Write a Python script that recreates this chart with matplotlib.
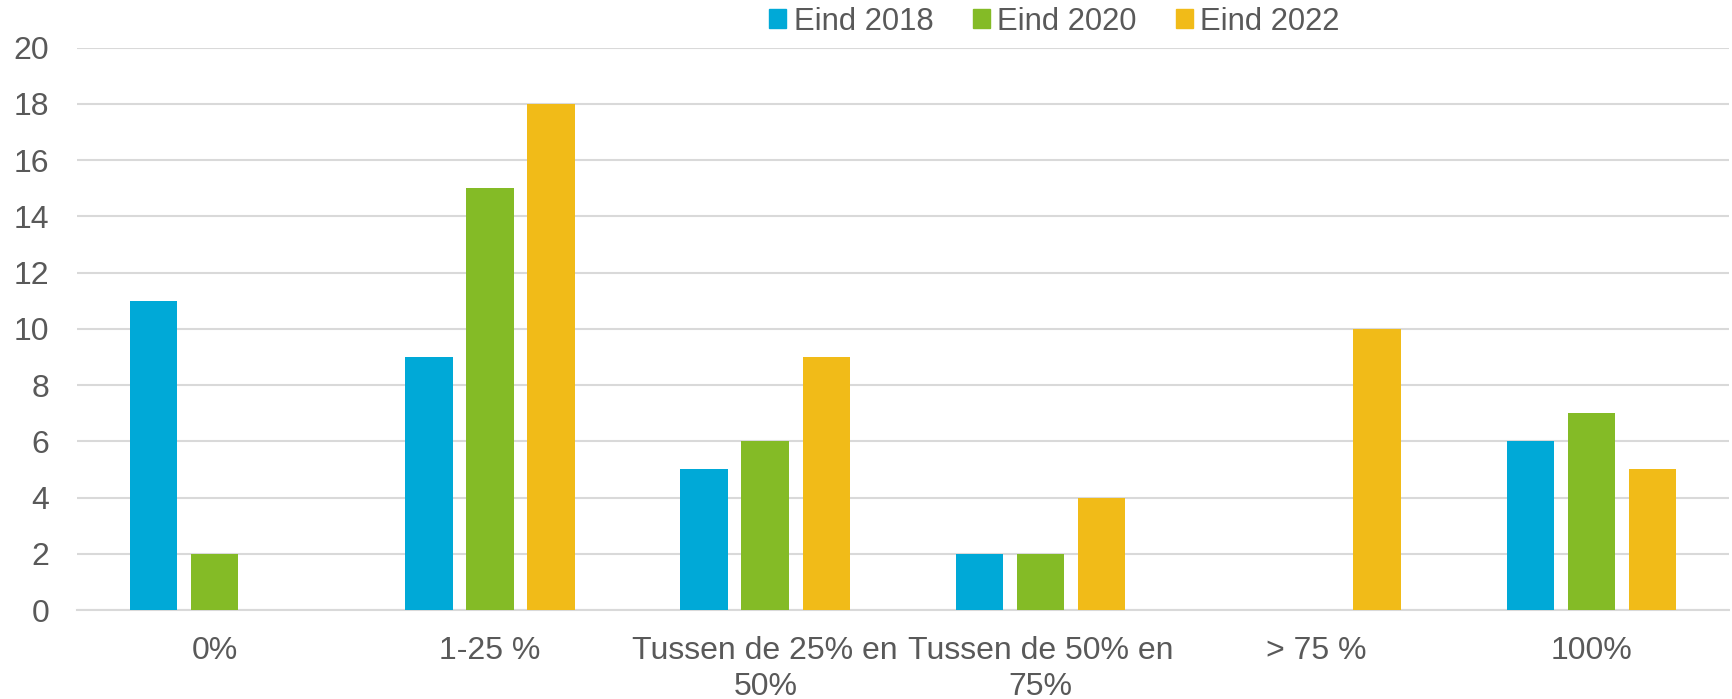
import numpy as np
import matplotlib
matplotlib.use("Agg")
import matplotlib.pyplot as plt
from matplotlib.patches import Patch

plt.rcParams['font.family'] = ['Liberation Sans', 'DejaVu Sans']

# data
categories = ["0%", "1-25 %", "Tussen de 25% en\n50%", "Tussen de 50% en\n75%", "> 75 %", "100%"]
series_names = ["Eind 2018", "Eind 2020", "Eind 2022"]
eind_2018 = [11, 9, 5, 2, 0, 6]
eind_2020 = [2, 15, 6, 2, 0, 7]
eind_2022 = [0, 18, 9, 4, 10, 5]
y_ticks = [0, 2, 4, 6, 8, 10, 12, 14, 16, 18, 20]

colors = ["#00A9D7", "#84BB26", "#F1BB18"]
text_color = "#595959"
grid_color = "#D9D9D9"

fig = plt.figure(figsize=(17.33, 6.99), dpi=100)
ax = fig.add_axes([0.0444, 0.1273, 0.9533, 0.8045])

x = np.arange(len(categories))
bar_w = 0.173
step = 0.2216
for i, vals in enumerate([eind_2018, eind_2020, eind_2022]):
    ax.bar(x + (i - 1) * step, vals, width=bar_w, color=colors[i], zorder=3)

ax.set_xlim(-0.5, len(categories) - 0.5)
ax.set_ylim(0, 20)
ax.set_yticks(y_ticks)
ax.set_xticks(x)
ax.set_xticklabels(categories, linespacing=1.25, va="top")

ax.yaxis.grid(True, color=grid_color, linewidth=1.5, zorder=0)
ax.set_axisbelow(True)
for s in ["top", "right", "left"]:
    ax.spines[s].set_visible(False)
ax.spines["bottom"].set_color(grid_color)
ax.spines["bottom"].set_linewidth(1.5)

ax.tick_params(axis="y", length=0, pad=20, labelsize=23, labelcolor=text_color)
ax.tick_params(axis="x", length=0, pad=19, labelsize=23, labelcolor=text_color)

handles = [Patch(color=c) for c in colors]
fig.legend(handles, series_names, loc="center", bbox_to_anchor=(0.6085, 0.969),
           ncol=3, frameon=False, fontsize=22.3, labelcolor=text_color,
           handlelength=0.55, handleheight=0.55, handletextpad=0.25,
           columnspacing=1.25)

fig.savefig("out.png", dpi=100)
